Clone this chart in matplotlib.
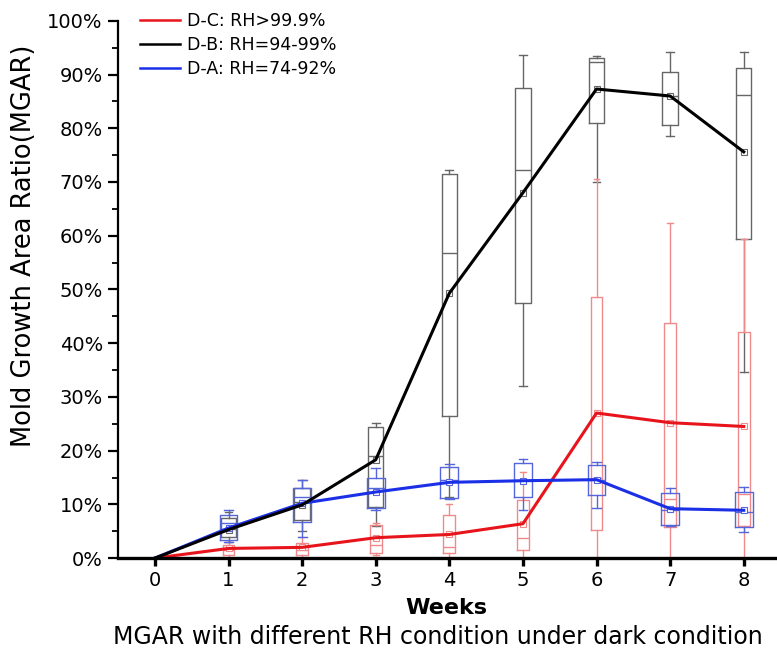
import matplotlib.pyplot as plt
from matplotlib.ticker import MultipleLocator, PercentFormatter
from matplotlib.lines import Line2D

plt.rcParams['font.family'] = ['DejaVu Sans']

weeks = [0, 1, 2, 3, 4, 5, 6, 7, 8]
box_weeks = [1, 2, 3, 4, 5, 6, 7, 8]

# mean MGAR per week (%)
dc_mean = [0, 1.8, 2.0, 3.8, 4.4, 6.4, 27.0, 25.2, 24.5]
db_mean = [0, 5.3, 9.9, 18.3, 49.3, 68.0, 87.3, 86.0, 75.6]
da_mean = [0, 5.6, 10.2, 12.3, 14.1, 14.4, 14.6, 9.2, 8.9]

# box stats for weeks 1-8: whisker low, q1, median, q3, whisker high (%)
dc_low = [0, 0, 0.5, 0, 0, 0, 0, 0]
dc_q1 = [0.6, 0.6, 0.9, 0.9, 1.5, 5.2, 5.8, 6.0]
dc_med = [1.5, 1.5, 2.5, 2.0, 3.7, 15.0, 11.0, 12.0]
dc_q3 = [2.4, 2.8, 6.1, 8.0, 10.8, 48.6, 43.8, 42.1]
dc_high = [3.0, 3.9, 6.5, 10.0, 16.0, 70.5, 62.4, 59.4]

db_low = [3.0, 5.0, 6.0, 11.4, 32.0, 70.0, 78.6, 34.6]
db_q1 = [4.0, 7.0, 9.5, 26.4, 47.5, 81.0, 80.6, 59.4]
db_med = [5.5, 10.5, 19.0, 56.8, 72.3, 92.3, 86.0, 86.2]
db_q3 = [7.5, 13.0, 24.4, 71.5, 87.5, 93.0, 90.5, 91.2]
db_high = [8.5, 14.5, 25.2, 72.3, 93.7, 93.5, 94.2, 94.2]

da_low = [3.0, 4.0, 9.0, 11.0, 8.9, 9.3, 6.0, 4.8]
da_q1 = [3.4, 6.7, 9.3, 11.2, 11.4, 11.7, 6.1, 5.8]
da_med = [6.5, 11.4, 13.0, 14.5, 14.5, 14.5, 9.0, 8.6]
da_q3 = [8.0, 13.0, 14.9, 17.0, 17.7, 17.3, 12.1, 12.3]
da_high = [8.9, 14.5, 16.8, 17.5, 18.4, 17.9, 13.0, 13.2]

labels = ['D-C: RH>99.9%', 'D-B: RH=94-99%', 'D-A: RH=74-92%']
line_colors = ['#e8141c', '#000000', '#1a2fe6']
box_colors = ['#f08a8a', '#666666', '#5566dd']


def make_stats(low, q1, med, q3, high, mean):
    stats = []
    for i in range(len(low)):
        stats.append({'whislo': low[i] / 100, 'q1': q1[i] / 100, 'med': med[i] / 100,
                      'q3': q3[i] / 100, 'whishi': high[i] / 100,
                      'mean': mean[i + 1] / 100, 'fliers': []})
    return stats


fig = plt.figure(figsize=(7.77, 6.70), dpi=100)
ax = fig.add_axes([0.152, 0.167, 0.845, 0.802])

groups = [
    (db_low, db_q1, db_med, db_q3, db_high, db_mean, box_colors[1], 0.21, 1),
    (dc_low, dc_q1, dc_med, dc_q3, dc_high, dc_mean, box_colors[0], 0.16, 2),
    (da_low, da_q1, da_med, da_q3, da_high, da_mean, box_colors[2], 0.24, 3),
]
for low, q1, med, q3, high, mean, c, w, z in groups:
    st = make_stats(low, q1, med, q3, high, mean)
    lp = dict(color=c, linewidth=1.0)
    bp = ax.bxp(st, positions=box_weeks, widths=w, showmeans=True, showfliers=False,
                boxprops=lp, whiskerprops=lp, capprops=lp, medianprops=lp,
                meanprops=dict(marker='s', markersize=4, markerfacecolor='white',
                               markeredgecolor=c, markeredgewidth=0.8),
                capwidths=w * 0.5, manage_ticks=False)
    for artists in bp.values():
        for a in artists:
            a.set_zorder(z)

ax.plot(weeks, [v / 100 for v in dc_mean], color=line_colors[0], lw=2.2, zorder=5)
ax.plot(weeks, [v / 100 for v in da_mean], color=line_colors[2], lw=2.2, zorder=6)
ax.plot(weeks, [v / 100 for v in db_mean], color=line_colors[1], lw=2.2, zorder=7)

ax.set_xlim(-0.5, 8.42)
ax.set_ylim(0, 1.0)
ax.set_xticks(weeks)
ax.yaxis.set_major_locator(MultipleLocator(0.1))
ax.yaxis.set_minor_locator(MultipleLocator(0.05))
ax.yaxis.set_major_formatter(PercentFormatter(1.0, decimals=0))

for side in ['top', 'right']:
    ax.spines[side].set_visible(False)
ax.spines['left'].set_linewidth(1.6)
ax.spines['bottom'].set_linewidth(2.4)
ax.spines['bottom'].set_zorder(10)
ax.tick_params(axis='both', which='major', direction='out', length=7, width=1.6,
               labelsize=14, colors='black', pad=4)
ax.tick_params(axis='y', which='minor', direction='out', length=4, width=1.3)
ax.tick_params(axis='x', which='major', length=6, width=2.4, pad=3)

ax.set_xlabel('Weeks', fontsize=16, fontweight='bold')
ax.xaxis.set_label_coords(0.5, -0.074)
ax.set_ylabel('Mold Growth Area Ratio(MGAR)', fontsize=18.5)
ax.yaxis.set_label_coords(-0.124, 0.581)
fig.text(0.563, 0.049, 'MGAR with different RH condition under dark condition',
         ha='center', va='center', fontsize=17)

handles = [Line2D([], [], color=c, lw=1.8) for c in line_colors]
ax.legend(handles, labels, loc='upper left', bbox_to_anchor=(0.01, 1.045), frameon=False,
          fontsize=12.5, handlelength=2.3, labelspacing=0.35, handletextpad=0.4)

fig.savefig('out.png', dpi=100)
